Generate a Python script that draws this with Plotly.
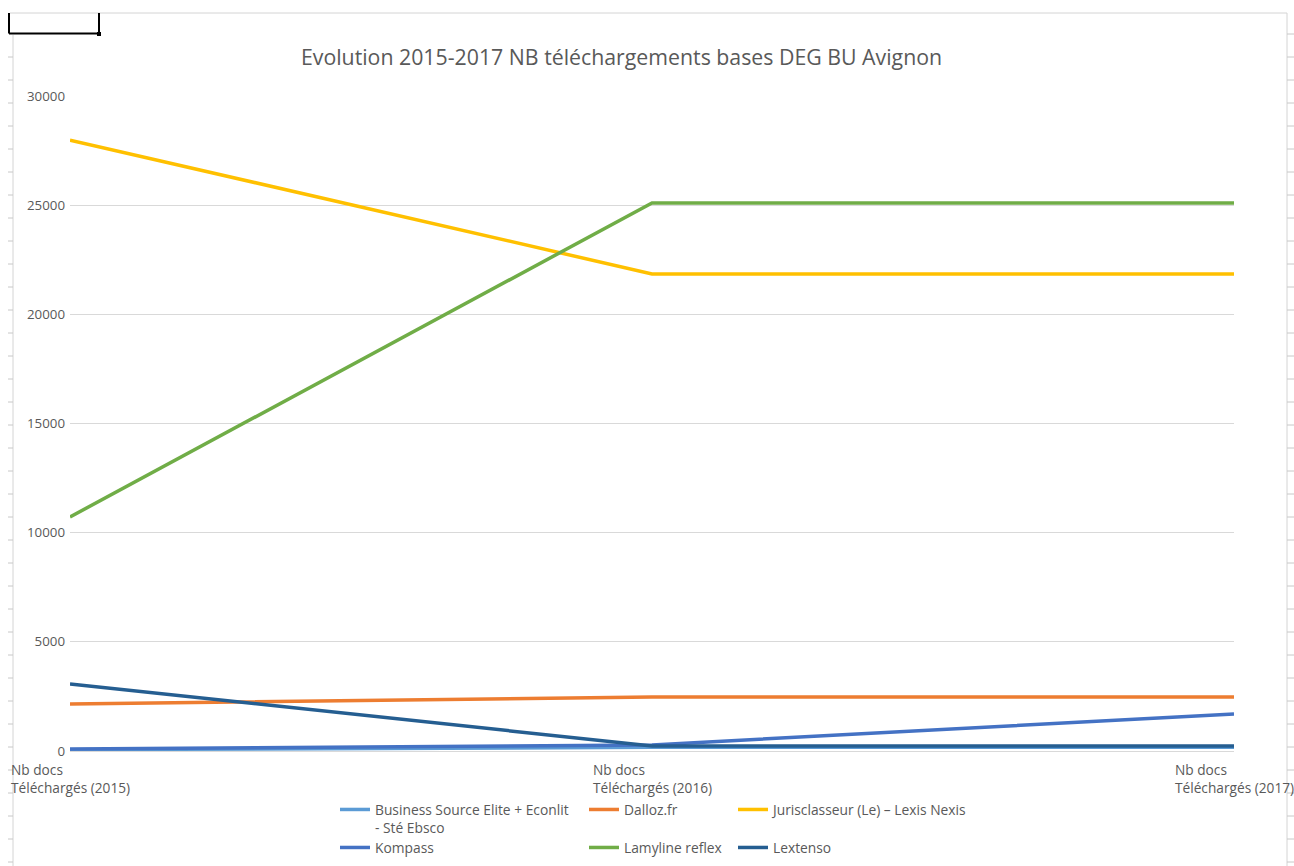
import plotly.graph_objects as go

categories = ["2015", "2016", "2017"]
tick_labels = ["Nb docs<br>Téléchargés (2015)", "Nb docs<br>Téléchargés (2016)", "Nb docs<br>Téléchargés (2017)"]

business_source = [60, 170, 170]
dalloz = [2150, 2470, 2470]
jurisclasseur = [27980, 21850, 21850]
kompass = [90, 280, 1700]
lamyline = [10720, 25100, 25100]
lextenso = [3070, 230, 230]

series_names = [
    "Business Source Elite + Econlit<br>- Sté Ebsco",
    "Dalloz.fr",
    "Jurisclasseur (Le) – Lexis Nexis",
    "Kompass",
    "Lamyline reflex",
    "Lextenso",
]
series_values = [business_source, dalloz, jurisclasseur, kompass, lamyline, lextenso]
series_colors = ["#5B9BD5", "#ED7D31", "#FFC000", "#4472C4", "#70AD47", "#255E91"]

W, H = 1294, 866
L, R, T, B = 70, 1234, 96, 751
PW, PH = R - L, B - T


def px(x):
    return (x - L) / PW


def py(y):
    return (B - y) / PH


FONT = "Open Sans"
GRAY = "#595959"

fig = go.Figure()

legend_ids = ["legend", "legend2", "legend3", "legend4", "legend5", "legend6"]
legend_pos = [(335, 794), (584, 794), (733, 794), (335, 832), (584, 832), (733, 832)]

for i, (name, vals, col) in enumerate(zip(series_names, series_values, series_colors)):
    fig.add_trace(go.Scatter(
        x=[0, 1, 2], y=vals, mode="lines", name=name,
        line=dict(color=col, width=3.5),
        legend=legend_ids[i], showlegend=True, hoverinfo="skip",
    ))

layout_legends = {}
for lid, (lx, ly) in zip(legend_ids, legend_pos):
    layout_legends[lid] = dict(
        x=px(lx), y=py(ly), xanchor="left", yanchor="top",
        xref="paper", yref="paper",
        bgcolor="rgba(0,0,0,0)", borderwidth=0,
        font=dict(family=FONT, size=13.8, color=GRAY),
        valign="top", itemclick=False, itemdoubleclick=False,
    )

fig.update_layout(
    width=W, height=H,
    margin=dict(l=L, r=W - R, t=T, b=H - B, pad=0, autoexpand=False),
    paper_bgcolor="white", plot_bgcolor="white",
    font=dict(family=FONT, color=GRAY),
    title=dict(
        text="Evolution 2015-2017 NB téléchargements bases DEG BU Avignon",
        x=621.5 / W, xanchor="center", xref="container",
        y=1 - 58 / H, yanchor="middle", yref="container",
        font=dict(family=FONT, size=21.3, color=GRAY),
    ),
    xaxis=dict(
        range=[0, 2], showgrid=False, zeroline=False,
        showline=True, linecolor="#D9D9D9", linewidth=1,
        tickvals=[0, 1, 2], showticklabels=False, ticks="",
    ),
    yaxis=dict(
        range=[0, 30000], tickvals=[0, 5000, 10000, 15000, 20000, 25000, 30000],
        ticktext=["0", "5000", "10000", "15000", "20000", "25000", "30000"],
        showgrid=True, gridcolor="#D9D9D9", gridwidth=1, zeroline=False,
        showline=False, ticks="", ticklabelstandoff=4,
        tickfont=dict(family=FONT, size=13.3, color=GRAY),
    ),
    **layout_legends,
)

# category labels (left-aligned lines, centered on each category)
for i, lab in enumerate(tick_labels):
    fig.add_annotation(
        x=i, y=0, xref="x", yref="paper", text=lab, showarrow=False,
        xanchor="center", yanchor="top", align="left", yshift=-7,
        font=dict(family=FONT, size=13.7, color=GRAY),
    )

# spreadsheet frame decorations
line_gray = dict(color="#D4D4D4", width=1)
fig.add_shape(type="line", xref="paper", yref="paper", x0=px(10), x1=px(1287), y0=py(13), y1=py(13), line=line_gray)
fig.add_shape(type="line", xref="paper", yref="paper", x0=px(1287), x1=px(1287), y0=py(13), y1=py(866), line=line_gray)
fig.add_shape(type="line", xref="paper", yref="paper", x0=px(13), x1=px(13), y0=py(35), y1=py(866), line=line_gray)
yy = 34
while yy < 866:
    fig.add_shape(type="line", xref="paper", yref="paper", x0=px(1287), x1=px(1294), y0=py(yy), y1=py(yy), line=dict(color="#C8C8C8", width=1))
    if yy > 40:
        fig.add_shape(type="line", xref="paper", yref="paper", x0=px(8), x1=px(13), y0=py(yy), y1=py(yy), line=dict(color="#C8C8C8", width=1))
    yy += 23

# selected cell box
blk = dict(color="black", width=2)
fig.add_shape(type="line", xref="paper", yref="paper", x0=px(9), x1=px(9), y0=py(13), y1=py(33.5), line=blk)
fig.add_shape(type="line", xref="paper", yref="paper", x0=px(9), x1=px(99), y0=py(33.5), y1=py(33.5), line=blk)
fig.add_shape(type="line", xref="paper", yref="paper", x0=px(99), x1=px(99), y0=py(13), y1=py(33.5), line=blk)
fig.add_shape(type="rect", xref="paper", yref="paper", x0=px(97), x1=px(101), y0=py(32), y1=py(36), fillcolor="black", line=dict(width=0))

fig.write_html(
    "out.html",
    config={"displayModeBar": False},
    post_script=(
        "document.documentElement.style.overflow='hidden';"
        "document.body.style.overflow='hidden';"
        "document.body.style.margin='0';"
    ),
)
